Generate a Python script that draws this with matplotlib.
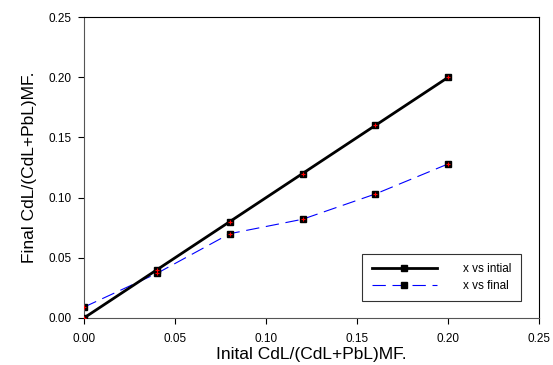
import matplotlib
matplotlib.use("Agg")
import matplotlib.pyplot as plt

plt.rcParams['font.family'] = ['Liberation Sans', 'DejaVu Sans']

# data
x_initial = [0.00, 0.04, 0.08, 0.12, 0.16, 0.20]
y_initial = [0.00, 0.04, 0.08, 0.12, 0.16, 0.20]
y_final = [0.009, 0.037, 0.070, 0.082, 0.103, 0.128]
ticks = [0.00, 0.05, 0.10, 0.15, 0.20, 0.25]

fig = plt.figure(figsize=(5.53, 3.65), dpi=100)
ax = fig.add_axes([0.152, 0.129, 0.823, 0.824])

ax.plot(x_initial, y_initial, color='black', lw=2, marker='s', ms=4.5,
        mfc='black', mec='black', label='x vs intial', zorder=3)
ax.plot(x_initial, y_final, color='blue', lw=0.8, dashes=(12, 6), marker='s', ms=4.5,
        mfc='black', mec='black', label='x vs final', zorder=2)
# red cross inside the markers
ax.plot(x_initial, y_initial, ls='none', marker='+', ms=3, mew=0.8, color='red', zorder=4)
ax.plot(x_initial, y_final, ls='none', marker='+', ms=3, mew=0.8, color='red', zorder=4)

ax.set_xlim(0, 0.25)
ax.set_ylim(0, 0.25)
ax.set_xticks(ticks)
ax.set_yticks(ticks)
ax.set_xticklabels(['%.2f' % t for t in ticks])
ax.set_yticklabels(['%.2f' % t for t in ticks])
ax.tick_params(direction='out', length=4, labelsize=8.5, top=False, right=False)
ax.tick_params(axis='x', pad=7)
ax.tick_params(axis='y', pad=5)
for s in ['left', 'bottom']:
    ax.spines[s].set_color('#555555')
ax.set_xlabel('Inital CdL/(CdL+PbL)MF.', fontsize=12.5, labelpad=1)
ax.set_ylabel('Final CdL/(CdL+PbL)MF.', fontsize=12.5, labelpad=8)

leg = ax.legend(loc='lower right', bbox_to_anchor=(0.972, 0.035), fontsize=8.5,
                handlelength=5.5, fancybox=False, edgecolor='black',
                borderpad=0.8, labelspacing=0.4, handletextpad=2.2)
leg.get_frame().set_linewidth(0.8)

fig.savefig('out.png', dpi=100)
